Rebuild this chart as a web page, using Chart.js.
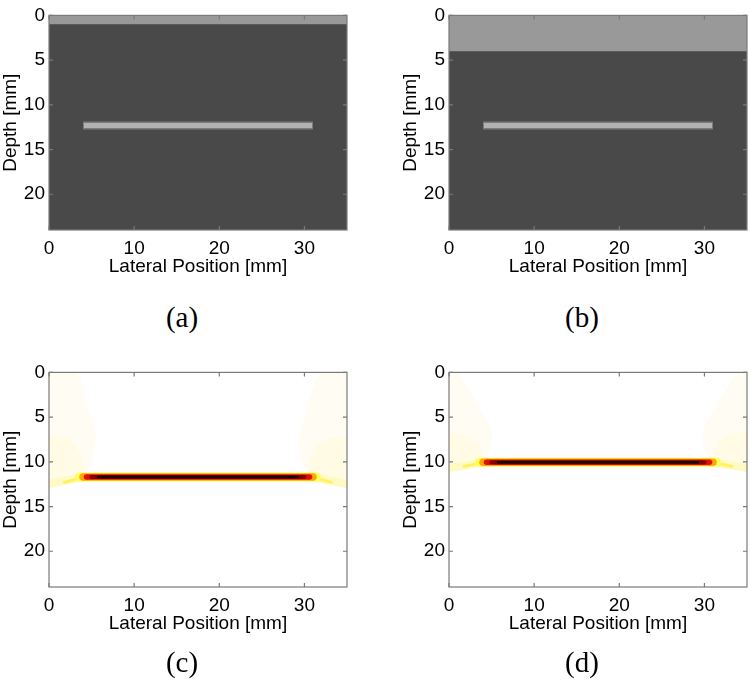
<!DOCTYPE html>
<html>
<head>
<meta charset="utf-8">
<script src="https://cdn.jsdelivr.net/npm/chart.js@4.4.1/dist/chart.umd.min.js"></script>
<style>
  body { margin: 0; background: #fff; width: 750px; height: 692px; position: relative; overflow: hidden; }
  .panel { position: absolute; width: 350px; height: 290px; }
  .tag { position: absolute; font-family: 'Liberation Serif', 'DejaVu Serif', serif; font-size: 29px; transform: translate(-50%, -50%); }
</style>
</head>
<body>
<div class="panel" style="left:0;top:0"><canvas id="pa"></canvas></div>
<div class="panel" style="left:400px;top:0"><canvas id="pb"></canvas></div>
<div class="panel" style="left:0;top:357px"><canvas id="pc"></canvas></div>
<div class="panel" style="left:400px;top:357px"><canvas id="pd"></canvas></div>
<div class="tag" style="left:182px;top:317px">(a)</div>
<div class="tag" style="left:582px;top:317px">(b)</div>
<div class="tag" style="left:182px;top:662px">(c)</div>
<div class="tag" style="left:582px;top:662px">(d)</div>
<script>
// axes
const xRange = [0, 35];
const yRange = [0, 24];
const xTicks = [0, 10, 20, 30];
const yTicks = [0, 5, 10, 15, 20];

// (a), (b): phantom images
const layerDepth = [1, 4];
const reflectorX = [4, 31];
const reflectorDepth = 12.3;

// (c), (d): reconstructions
const echoDepth = [11.7, 10.05];
const tailDepth = [12.5, 10.7];
const echoX = [5.8, 29.2];

// faint side lobes, [x, depth]
const coneLeftC = [[0, 0], [3.2, 0], [4.5, 4], [5.5, 7], [5, 10], [4, 11.6], [0, 12.3]];
const coneLeftInnerC = [[0, 7], [2.5, 7.5], [4, 10], [4, 11.7], [0, 12.2]];
const coneRightC = [[35, 0], [32, 0], [30, 5], [29.3, 8.5], [30, 10.5], [31, 11.7], [35, 12.5]];
const coneRightInnerC = [[35, 7], [31.5, 8], [30.5, 10.5], [31, 11.7], [35, 12.4]];
const coneLeftD = [[0, 0], [1, 0], [3, 3], [5, 6.5], [4.8, 8.5], [4, 10], [0, 10.6]];
const coneLeftInnerD = [[0, 6.5], [3, 7.5], [4, 9.5], [4, 10.05], [0, 10.6]];
const coneRightD = [[35, 0], [34, 0], [31.5, 3.5], [29.8, 6.5], [30, 8.5], [31, 10.05], [35, 10.7]];
const coneRightInnerD = [[35, 6.5], [32, 7.5], [31, 9.5], [31, 10.05], [35, 10.6]];

const pts = a => a.map(p => ({ x: p[0], y: p[1] }));
const seg = (x0, y0, x1, y1) => [{ x: x0, y: y0 }, { x: x1, y: y1 }];

function stroke(data, color, width, cap) {
  return { data, showLine: true, pointRadius: 0, borderColor: color, borderWidth: width,
    borderCapStyle: cap || 'round', fill: false };
}
function shape(poly, color) {
  return { data: pts(poly), showLine: true, pointRadius: 0, borderWidth: 0, borderColor: color,
    backgroundColor: color, fill: 'shape', tension: 0.3 };
}

const frame = {
  id: 'frame',
  beforeDatasetsDraw(chart, args, opts) {
    const a = chart.chartArea, ctx = chart.ctx;
    ctx.save();
    ctx.fillStyle = opts.bg;
    ctx.fillRect(a.left, a.top, a.right - a.left, a.bottom - a.top);
    ctx.restore();
  },
  afterDatasetsDraw(chart) {
    const a = chart.chartArea, ctx = chart.ctx;
    const sx = chart.scales.x, sy = chart.scales.y;
    ctx.save();
    ctx.strokeStyle = '#7a7a7a';
    ctx.lineWidth = 1.2;
    ctx.strokeRect(a.left, a.top, a.right - a.left, a.bottom - a.top);
    ctx.beginPath();
    sx.ticks.forEach(t => {
      const px = sx.getPixelForValue(t.value);
      ctx.moveTo(px, a.bottom); ctx.lineTo(px, a.bottom - 4);
      ctx.moveTo(px, a.top); ctx.lineTo(px, a.top + 4);
    });
    sy.ticks.forEach(t => {
      const py = sy.getPixelForValue(t.value);
      ctx.moveTo(a.left, py); ctx.lineTo(a.left + 4, py);
      ctx.moveTo(a.right, py); ctx.lineTo(a.right - 4, py);
    });
    ctx.stroke();
    ctx.restore();
  }
};

const tickFont = { family: "'Liberation Sans', Arial, sans-serif", size: 19 };

function makePanel(id, datasets, bg) {
  datasets.forEach((d, i) => { d.order = datasets.length - i; });
  new Chart(document.getElementById(id), {
    type: 'scatter',
    data: { datasets },
    options: {
      responsive: true,
      maintainAspectRatio: false,
      animation: false,
      events: [],
      layout: { padding: { top: 7, right: 3, left: 0, bottom: 0 } },
      plugins: { legend: { display: false }, tooltip: { enabled: false }, frame: { bg } },
      scales: {
        x: {
          type: 'linear', min: xRange[0], max: xRange[1],
          afterBuildTicks: s => { s.ticks = xTicks.map(v => ({ value: v })); },
          afterFit: s => { s.height = 60; },
          grid: { display: false, drawTicks: false },
          border: { display: false },
          ticks: { font: tickFont, color: '#000', padding: 7, maxRotation: 0 },
          title: { display: true, text: 'Lateral Position [mm]', font: tickFont, color: '#000', padding: { top: 0, bottom: 12 } }
        },
        y: {
          type: 'linear', min: yRange[0], max: yRange[1], reverse: true,
          afterBuildTicks: s => { s.ticks = yTicks.map(v => ({ value: v })); },
          afterFit: s => { s.width = 49; },
          grid: { display: false, drawTicks: false },
          border: { display: false },
          ticks: { font: tickFont, color: '#000', padding: 4 },
          title: { display: true, text: 'Depth [mm]', font: tickFont, color: '#000', padding: { top: -1, bottom: 0 } }
        }
      }
    },
    plugins: [frame]
  });
}

function phantom(i) {
  return [
    { data: seg(xRange[0], layerDepth[i], xRange[1], layerDepth[i]), showLine: true, pointRadius: 0,
      borderWidth: 0, backgroundColor: '#999999', fill: { value: 0 } },
    stroke(seg(reflectorX[0], reflectorDepth, reflectorX[1], reflectorDepth), '#7c7c7c', 8, 'butt'),
    stroke(seg(reflectorX[0] + 0.1, reflectorDepth, reflectorX[1] - 0.1, reflectorDepth), '#b2b2b2', 5, 'butt')
  ];
}

function recon(i, cones) {
  const d = echoDepth[i], t = tailDepth[i];
  return [
    shape(cones[0], 'rgba(255,238,120,0.09)'),
    shape(cones[2], 'rgba(255,238,120,0.09)'),
    shape(cones[1], 'rgba(255,238,110,0.10)'),
    shape(cones[3], 'rgba(255,238,110,0.10)'),
    stroke(seg(0, t, 4.2, d), '#fffac4', 8),
    stroke(seg(35, t, 30.8, d), '#fffac4', 8),
    stroke(seg(1.8, t - 0.2, 4.2, d), '#fff260', 3),
    stroke(seg(33.2, t - 0.2, 30.8, d), '#fff260', 3),
    stroke(seg(3.6, d, 31.4, d), '#ffff60', 9),
    stroke(seg(4.0, d, 31.0, d), '#ffa800', 7.5),
    stroke(seg(4.4, d, 30.6, d), '#e01000', 5.5),
    stroke(seg(5.0, d, 30.0, d), '#800000', 4),
    stroke(seg(echoX[0], d, echoX[1], d), '#100000', 2.5)
  ];
}

makePanel('pa', phantom(0), '#494949');
makePanel('pb', phantom(1), '#494949');
makePanel('pc', recon(0, [coneLeftC, coneLeftInnerC, coneRightC, coneRightInnerC]), '#ffffff');
makePanel('pd', recon(1, [coneLeftD, coneLeftInnerD, coneRightD, coneRightInnerD]), '#ffffff');
</script>
</body>
</html>
